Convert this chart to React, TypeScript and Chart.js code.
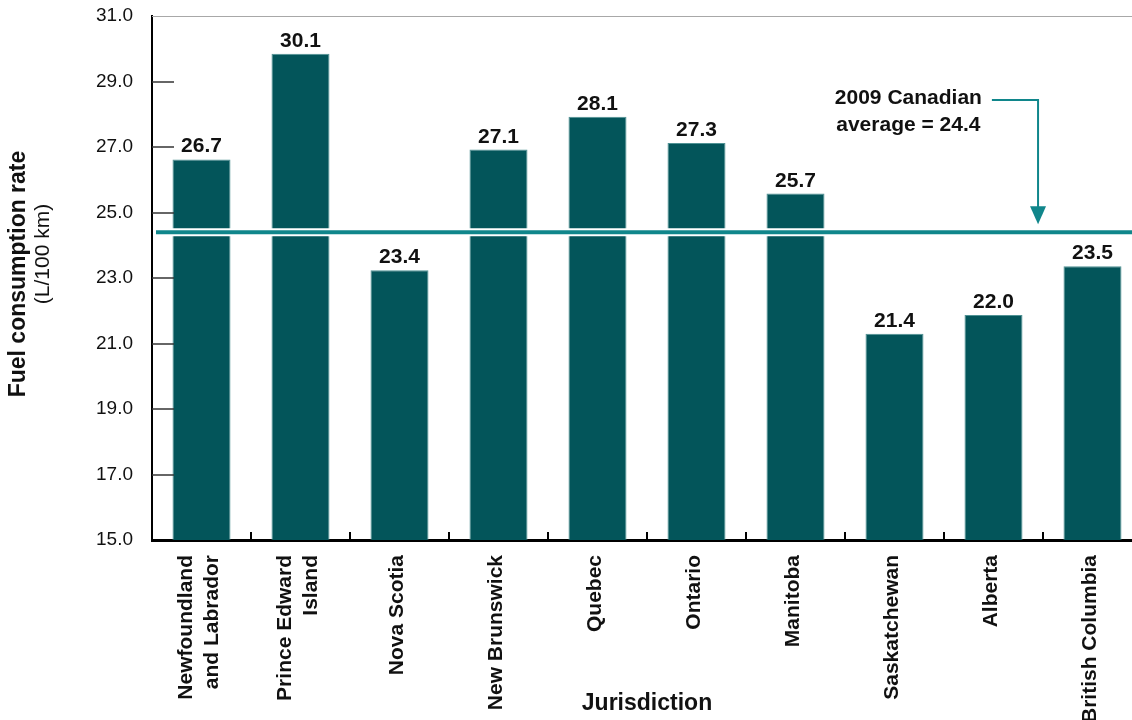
import React, { useEffect, useRef } from "react";
import { Chart, registerables } from "chart.js";

Chart.register(...registerables);

const categories: string[][] = [
  ["Newfoundland", "and Labrador"],
  ["Prince Edward", "Island"],
  ["Nova Scotia"],
  ["New Brunswick"],
  ["Quebec"],
  ["Ontario"],
  ["Manitoba"],
  ["Saskatchewan"],
  ["Alberta"],
  ["British Columbia"],
];
// bar heights as drawn in the picture
const barValues = [26.62, 29.85, 23.24, 26.92, 27.92, 27.12, 25.58, 21.3, 21.87, 23.36];
// value labels printed above the bars
const valueLabels = ["26.7", "30.1", "23.4", "27.1", "28.1", "27.3", "25.7", "21.4", "22.0", "23.5"];
const canadianAverage = 24.4;
const averageNote = ["2009 Canadian", "average = 24.4"];
const yMin = 15;
const yMax = 31;
const yStep = 2;
const yTitleMain = "Fuel consumption rate";
const yTitleUnit = "(L/100 km)";
const xTitle = "Jurisdiction";

const FONT = '"Liberation Sans", Arial, Helvetica, sans-serif';
const BAR = "#03555a";
const TEAL = "#10868b";

const decor = {
  id: "decor",
  afterDatasetsDraw(chart: any) {
    const { ctx, chartArea: a, scales } = chart;
    const x = scales.x;
    const y = scales.y;
    ctx.save();

    // top border
    ctx.strokeStyle = "#a8a8a8";
    ctx.lineWidth = 1;
    ctx.beginPath();
    ctx.moveTo(a.left, Math.round(a.top) + 0.5);
    ctx.lineTo(a.right, Math.round(a.top) + 0.5);
    ctx.stroke();

    // inner y tick marks
    ctx.strokeStyle = "#333";
    ctx.lineWidth = 1.5;
    for (let v = yMin + yStep; v < yMax; v += yStep) {
      const py = Math.round(y.getPixelForValue(v));
      ctx.beginPath();
      ctx.moveTo(a.left, py);
      ctx.lineTo(a.left + 22, py);
      ctx.stroke();
    }

    // x boundary tick marks
    ctx.strokeStyle = "#000";
    ctx.lineWidth = 2;
    for (let i = 0; i < categories.length - 1; i++) {
      const px = Math.round(x.getPixelForValue(i + 0.5));
      ctx.beginPath();
      ctx.moveTo(px, a.bottom);
      ctx.lineTo(px, a.bottom - 8);
      ctx.stroke();
    }

    // value labels
    const meta = chart.getDatasetMeta(0);
    ctx.fillStyle = "#111";
    ctx.font = `bold 21px ${FONT}`;
    ctx.textAlign = "center";
    ctx.textBaseline = "alphabetic";
    meta.data.forEach((bar: any, i: number) => {
      ctx.fillText(valueLabels[i], bar.x, bar.y - 7);
    });

    // average line
    const ay = y.getPixelForValue(canadianAverage);
    ctx.strokeStyle = "#ffffff";
    ctx.lineWidth = 8;
    ctx.beginPath();
    ctx.moveTo(a.left + 4, ay);
    ctx.lineTo(a.right, ay);
    ctx.stroke();
    ctx.strokeStyle = TEAL;
    ctx.lineWidth = 4;
    ctx.beginPath();
    ctx.moveTo(a.left + 4, ay);
    ctx.lineTo(a.right, ay);
    ctx.stroke();

    // annotation
    const tx = x.getPixelForValue(7.14);
    const ty = y.getPixelForValue(28.5);
    ctx.fillStyle = "#111";
    ctx.font = `bold 21px ${FONT}`;
    ctx.textAlign = "center";
    ctx.textBaseline = "middle";
    ctx.fillText(averageNote[0], tx, ty);
    ctx.fillText(averageNote[1], tx, ty + 27);
    const w0 = ctx.measureText(averageNote[0]).width;
    const lx = x.getPixelForValue(8.45);
    const tipY = ay - 8;
    ctx.strokeStyle = TEAL;
    ctx.lineWidth = 2;
    ctx.beginPath();
    ctx.moveTo(tx + w0 / 2 + 10, ty + 2);
    ctx.lineTo(lx, ty + 2);
    ctx.lineTo(lx, tipY - 14);
    ctx.stroke();
    ctx.fillStyle = TEAL;
    ctx.beginPath();
    ctx.moveTo(lx - 8, tipY - 18);
    ctx.lineTo(lx + 8, tipY - 18);
    ctx.lineTo(lx, tipY);
    ctx.closePath();
    ctx.fill();

    // x category labels (rotated)
    ctx.fillStyle = "#111";
    ctx.font = `bold 21px ${FONT}`;
    ctx.textAlign = "right";
    ctx.textBaseline = "middle";
    const lh = 26;
    categories.forEach((lines, i) => {
      const px = x.getPixelForTick(i) - 2;
      ctx.save();
      ctx.translate(px, a.bottom + 15);
      ctx.rotate(-Math.PI / 2);
      lines.forEach((t, j) => {
        ctx.fillText(t, 0, (j - (lines.length - 1) / 2) * lh);
      });
      ctx.restore();
    });

    // y title
    ctx.save();
    ctx.translate(19, 274);
    ctx.rotate(-Math.PI / 2);
    ctx.textAlign = "center";
    ctx.textBaseline = "middle";
    ctx.font = `bold 23px ${FONT}`;
    ctx.fillText(yTitleMain, 0, 0);
    ctx.restore();
    ctx.save();
    ctx.translate(43, 254);
    ctx.rotate(-Math.PI / 2);
    ctx.textAlign = "center";
    ctx.textBaseline = "middle";
    ctx.font = `21px ${FONT}`;
    ctx.fillText(yTitleUnit, 0, 0);
    ctx.restore();

    ctx.restore();
  },
};

export default function App() {
  const ref = useRef<HTMLCanvasElement | null>(null);
  useEffect(() => {
    if (!ref.current) return;
    const chart = new Chart(ref.current, {
      type: "bar",
      data: {
        labels: categories,
        datasets: [
          {
            data: barValues,
            backgroundColor: BAR,
            borderColor: "#4f9294",
            borderWidth: 1,
            barPercentage: 0.586,
            categoryPercentage: 1,
          },
        ],
      },
      options: {
        responsive: false,
        animation: false,
        devicePixelRatio: 1,
        layout: { autoPadding: false, padding: { top: 16, left: 0, right: 0, bottom: 0 } },
        plugins: {
          legend: { display: false },
          tooltip: { enabled: false },
          title: { display: false },
          subtitle: { display: false },
        },
        scales: {
          x: {
            type: "category",
            grid: { display: false },
            border: { display: true, color: "#000", width: 3 },
            ticks: { display: false },
            title: {
              display: true,
              text: xTitle,
              color: "#111",
              font: { family: FONT, size: 23, weight: "bold" },
              padding: { top: 0, bottom: 3 },
            },
            afterFit: (scale: any) => {
              scale.height = 180;
              scale.paddingLeft = 0;
              scale.paddingRight = 0;
            },
          },
          y: {
            min: yMin,
            max: yMax,
            grid: { display: false, drawTicks: false },
            border: { display: true, color: "#000", width: 2 },
            ticks: {
              stepSize: yStep,
              padding: 19,
              color: "#111",
              font: { family: FONT, size: 19 },
              callback: (v: any) => Number(v).toFixed(1),
            },
            afterFit: (scale: any) => {
              scale.width = 152;
              scale.paddingTop = 0;
              scale.paddingBottom = 0;
            },
          },
        },
      },
      plugins: [decor],
    });
    return () => chart.destroy();
  }, []);

  return (
    <div
      style={{
        position: "fixed",
        left: 0,
        top: 0,
        width: 1132,
        height: 720,
        overflow: "hidden",
        background: "#fff",
      }}
    >
      <canvas ref={ref} width={1142} height={720} style={{ display: "block", width: 1142, height: 720 }} />
    </div>
  );
}
